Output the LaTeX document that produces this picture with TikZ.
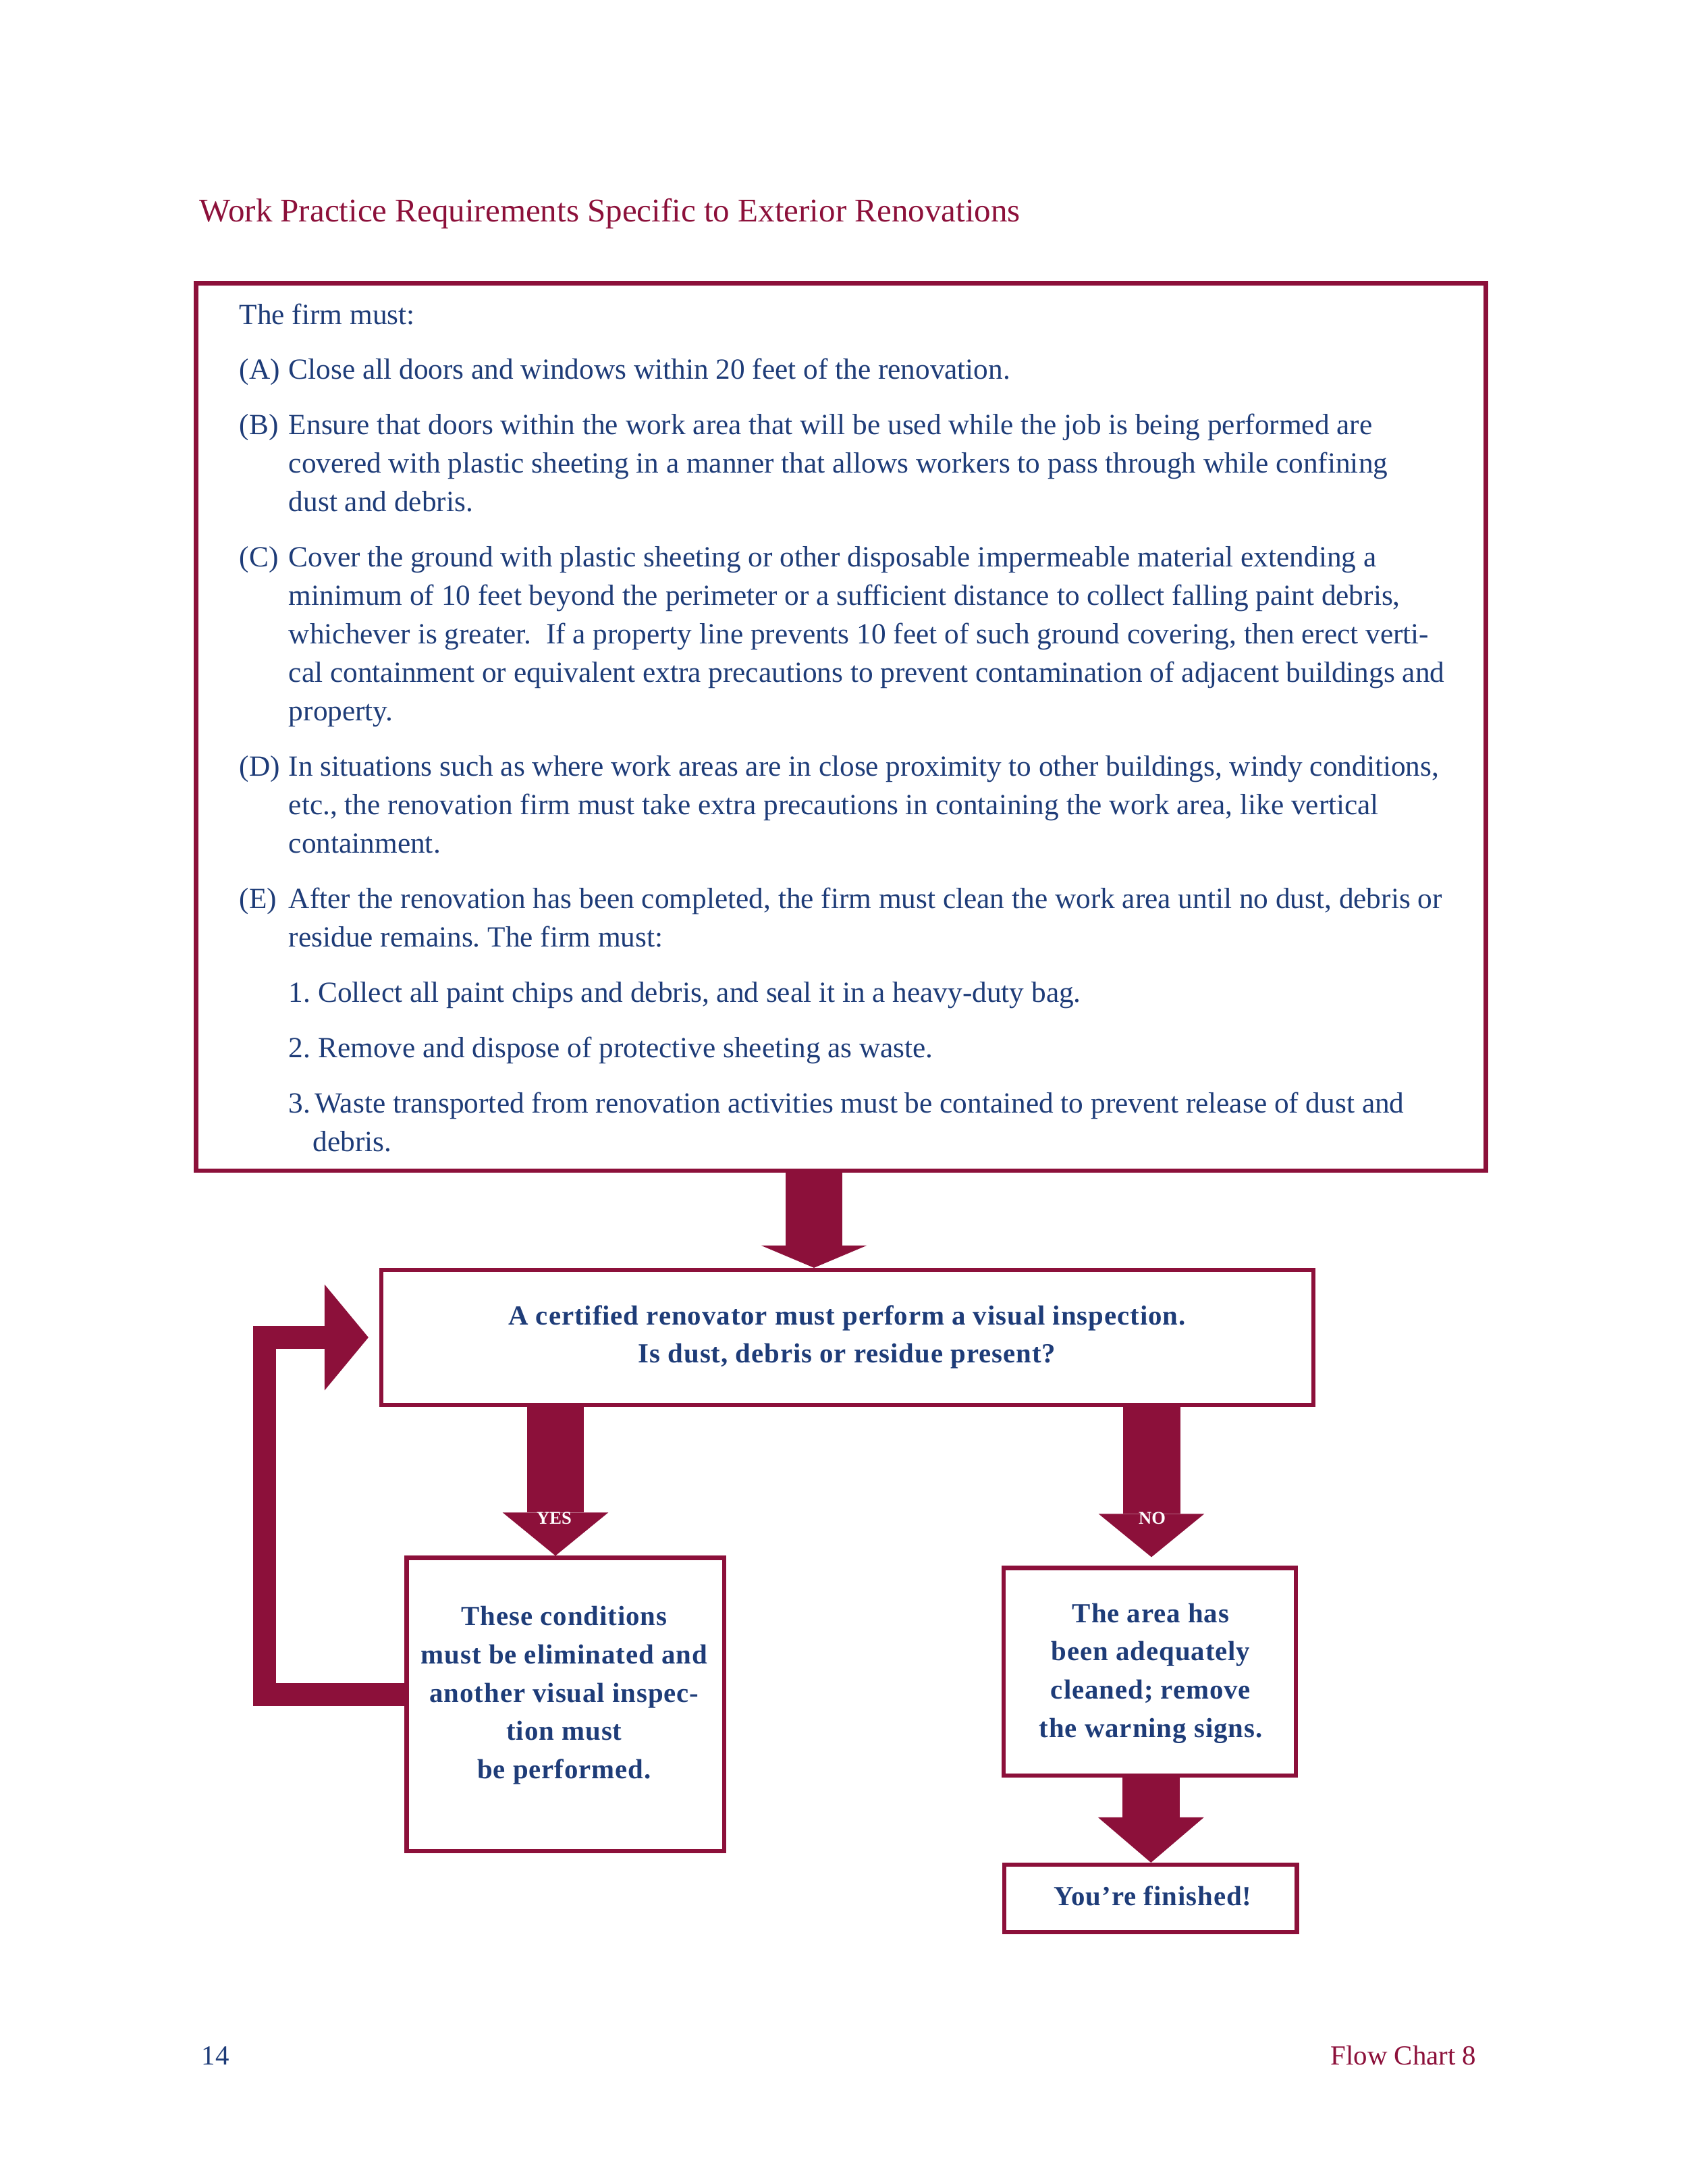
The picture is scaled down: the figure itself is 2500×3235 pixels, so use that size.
\documentclass[tikz,border=0pt]{standalone}
\usepackage{fontspec}
\setmainfont{Liberation Serif}
\newfontfamily\chartfont[LetterSpace=2.3]{Liberation Serif}
\usetikzlibrary{arrows.meta}
\usetikzlibrary{calc}

\definecolor{chartred}{HTML}{8C103A}
\definecolor{chartblue}{HTML}{1E3C78}

% one lettered paragraph of the requirement list
\newcommand{\firmitem}[1]{\par\hangindent=17.9pt\hangafter=1\noindent\makebox[17.9pt][l]{#1}}

\tikzset{
  frame/.style={draw=chartred, line width=1.5pt, inner sep=0pt},
  boxtext/.style={anchor=base, inner sep=0pt, text=chartblue,
    font=\chartfont\bfseries\fontsize{10}{13.9}\selectfont},
  flag/.style={anchor=base, inner sep=0pt, text=white,
    font=\bfseries\fontsize{6.5}{7}\selectfont},
  bigarrow/.style={draw=chartred, line width=20.8pt,
    -{Triangle[width=38.4pt, length=#1, line width=0pt]}},
  bigarrow/.default=15.7pt,
  loopbar/.style={draw=chartred, line width=8.2pt, line join=miter,
    -{Triangle[width=38.4pt, length=15.9pt, line width=0pt]}},
}

\begin{document}
\frenchspacing
\begin{tikzpicture}[x=0.2448pt, y=-0.2448pt]
  \useasboundingbox (0,0) rectangle (2500,3235);

  % heading and page foot
  \node[anchor=base west, inner sep=0pt, text=chartred, font=\fontsize{12}{14}\selectfont]
    (title) at (295,328) {Work Practice Requirements Specific to Exterior Renovations};
  \node[anchor=base west, inner sep=0pt, text=chartblue, font=\fontsize{10}{12}\selectfont]
    (pagenum) at (298,3058) {14};
  \node[anchor=base east, inner sep=0pt, text=chartred, font=\fontsize{10}{12}\selectfont]
    (chartname) at (2188,3058) {Flow Chart 8};

  % the requirements box
  \node[frame, line width=1.6pt, minimum width=467.8pt, minimum height=321.8pt] (firm) at (1246,1076.75) {};
  \node[anchor=base west, inner sep=0pt, text=chartblue, font=\fontsize{10.6}{13.95}\selectfont]
    (firmtext) at (354,480) {\parbox[t]{470pt}{\setlength{\parskip}{6.1pt}\setlength{\parindent}{0pt}%
    The firm must:\par
    \firmitem{(A)}Close all doors and windows within 20 feet of the renovation.\par
    \firmitem{(B)}Ensure that doors within the work area that will be used while the job is being performed are\newline
    covered with plastic sheeting in a manner that allows workers to pass through while confining\newline
    dust and debris.\par
    \firmitem{(C)}Cover the ground with plastic sheeting or other disposable impermeable material extending a\newline
    minimum of 10 feet beyond the perimeter or a sufficient distance to collect falling paint debris,\newline
    whichever is greater.\ \ If a property line prevents 10 feet of such ground covering, then erect verti-\newline
    cal containment or equivalent extra precautions to prevent contamination of adjacent buildings and\newline
    property.\par
    \firmitem{(D)}In situations such as where work areas are in close proximity to other buildings, windy conditions,\newline
    etc., the renovation firm must take extra precautions in containing the work area, like vertical\newline
    containment.\par
    \firmitem{(E)}After the renovation has been completed, the firm must clean the work area until no dust, debris or\newline
    residue remains. The firm must:\par
    \hspace*{17.9pt}1.\ Collect all paint chips and debris, and seal it in a heavy-duty bag.\par
    \hspace*{17.9pt}2.\ Remove and dispose of protective sheeting as waste.\par
    \hangindent=26.7pt\hangafter=1\hspace*{17.9pt}3.\hspace{1.5pt}Waste transported from renovation activities must be contained to prevent release of dust and\newline
    debris.\par}};

  % flow chart boxes
  \node[frame, minimum width=338.1pt, minimum height=49pt] (insp) at (1255.5,1981) {};
  \node[boxtext] (insptext) at (1255,1962) {\parbox[t]{340pt}{\centering
    A certified renovator must perform a visual inspection.\\
    Is dust, debris or residue present?}};

  \node[frame, minimum width=115.2pt, minimum height=106.4pt] (yesbox) at (837.8,2524.75) {};
  \node[boxtext] (yestext) at (836,2407.6) {\parbox[t]{140pt}{\centering
    These conditions\\ must be eliminated and\\ another visual inspec-\\ tion must\\ be performed.}};

  \node[frame, minimum width=106.1pt, minimum height=75.3pt] (nobox) at (1703.3,2476.3) {};
  \node[boxtext] (notext) at (1705,2403) {\parbox[t]{140pt}{\centering
    The area has\\ been adequately\\ cleaned; remove\\ the warning signs.}};

  \node[frame, minimum width=106.2pt, minimum height=24.5pt] (donebox) at (1704.5,2812) {};
  \node[boxtext] (donetext) at (1708,2822.8) {You’re finished!};

  % block arrows
  \coordinate (m1) at ($(firm.south)+(-40,0)$);
  \coordinate (y1) at ($(insp.south)+(-432.5,0)$);
  \coordinate (n1) at ($(insp.south)+(450.5,0)$);
  \coordinate (f1) at ($(nobox.south)+(2,0)$);

  \draw[bigarrow=8.1pt] (m1) -- (m1 |- insp.north);
  \draw[bigarrow] (y1) -- (y1 |- yesbox.north);
  \draw[bigarrow, shorten >=3.2pt] (n1) -- (n1 |- nobox.north);
  \draw[bigarrow=16.4pt] (f1) -- (f1 |- donebox.north);
  \node[flag] (yeslabel) at (821,2257) {YES};
  \node[flag] (nolabel) at (1707,2257) {NO};

  % back to the inspection
  \draw[loopbar] ($(yesbox.west)+(0,-15)$) -- ++(-207.5,0) |- ($(insp.west)+(-16,0)$);
\end{tikzpicture}
\end{document}
